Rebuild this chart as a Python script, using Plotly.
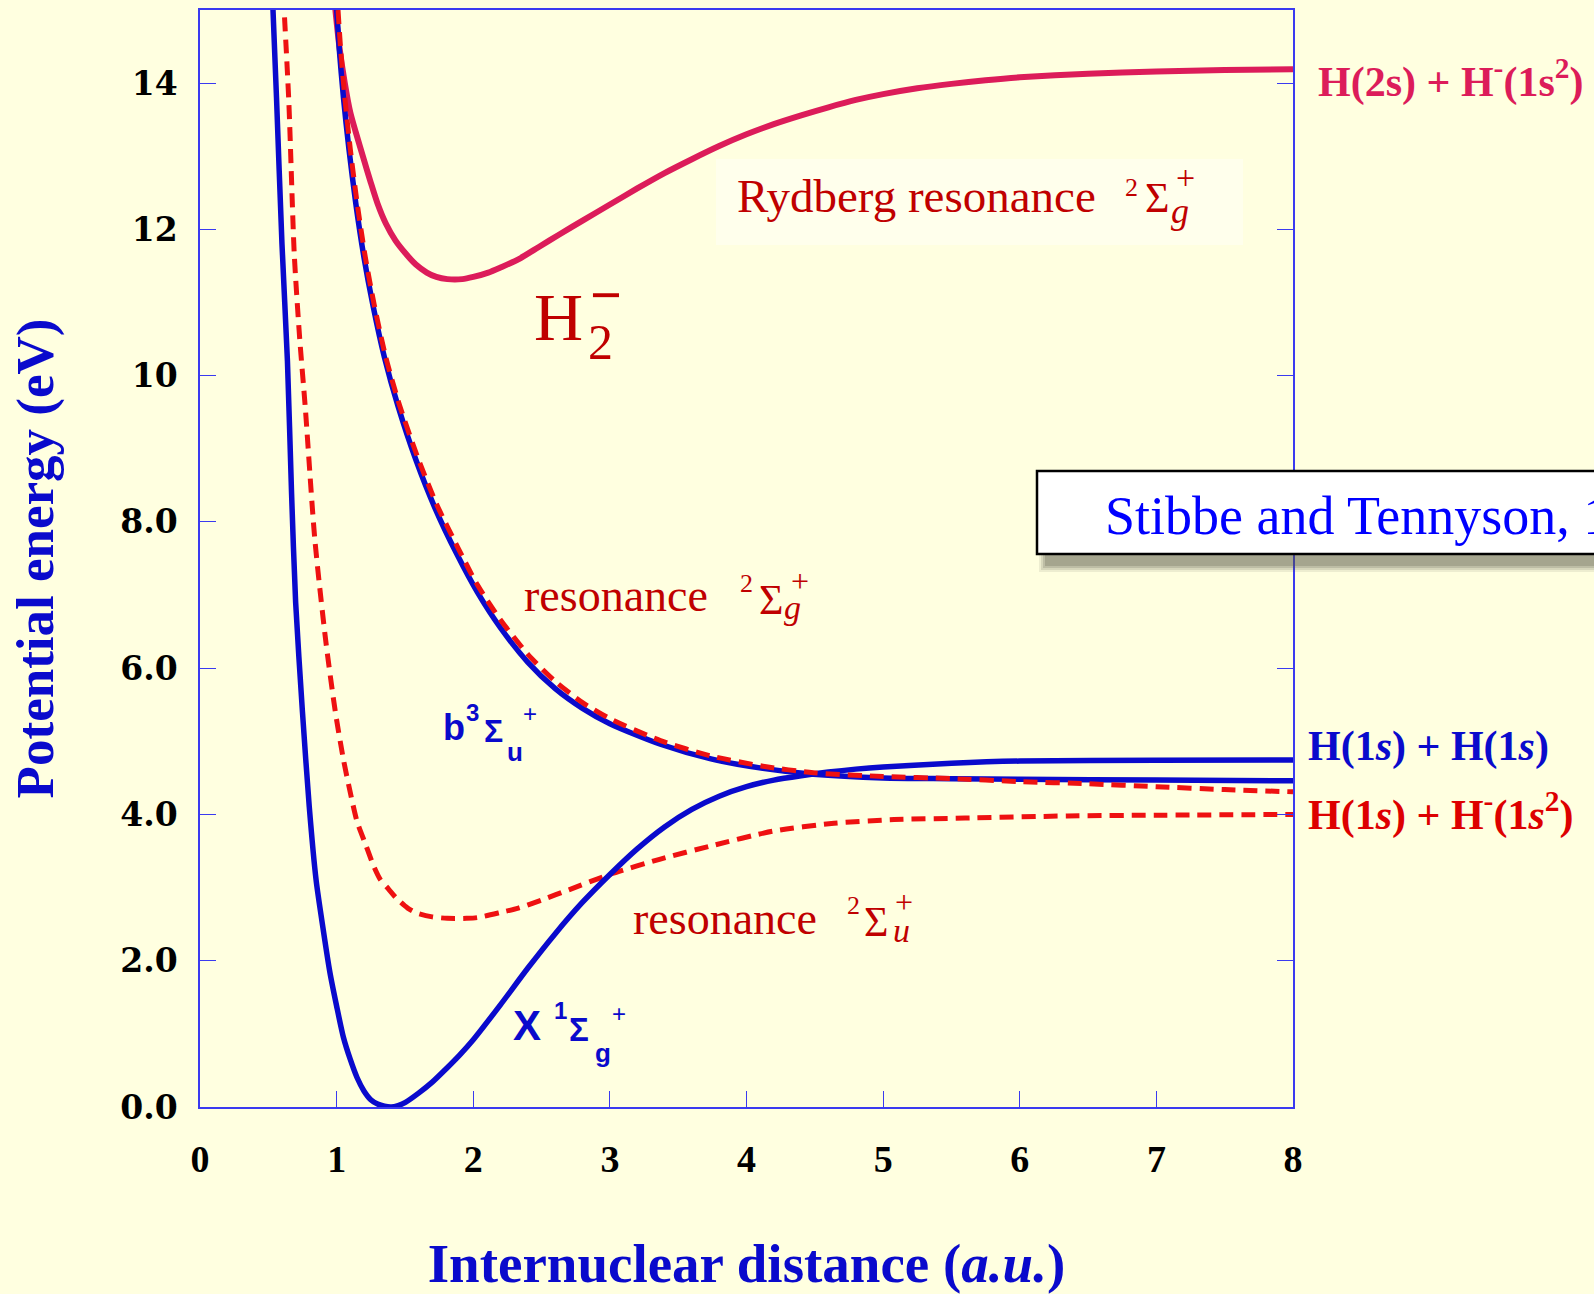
import plotly.graph_objects as go

# ---------------------------------------------------------------------------
# Potential energy curves of H2 and H2- (energy in eV vs R in a.u.)
# ---------------------------------------------------------------------------
r_X = [0.53, 0.56, 0.60, 0.64, 0.67, 0.70, 0.75, 0.80, 0.85, 0.90, 0.95, 1.00,
       1.05, 1.10, 1.15, 1.20, 1.25, 1.30, 1.35, 1.40, 1.45, 1.50, 1.60, 1.70,
       1.80, 1.90, 2.00, 2.20, 2.40, 2.60, 2.80, 3.00, 3.20, 3.40, 3.60, 3.80,
       4.00, 4.20, 4.40, 4.60, 4.80, 5.00, 5.50, 6.00, 7.00, 8.00]
e_X = [15.2, 13.8, 11.8, 10.2, 8.4, 6.9, 5.4, 4.1, 3.1, 2.45, 1.85, 1.38,
       0.95, 0.65, 0.40, 0.22, 0.10, 0.04, 0.01, 0.0, 0.02, 0.06, 0.19, 0.34,
       0.52, 0.71, 0.92, 1.40, 1.90, 2.37, 2.80, 3.18, 3.53, 3.83, 4.07, 4.25,
       4.38, 4.47, 4.53, 4.58, 4.62, 4.65, 4.70, 4.73, 4.74, 4.745]

r_b = [0.99, 1.02, 1.05, 1.09, 1.14, 1.20, 1.265, 1.35, 1.45, 1.58, 1.72, 1.88,
       2.03, 2.20, 2.40, 2.60, 2.80, 3.00, 3.37, 3.74, 4.12, 4.49, 5.00, 5.50,
       6.00, 7.00, 8.00]
e_b = [15.3, 14.45, 13.8, 13.1, 12.36, 11.62, 10.97, 10.25, 9.58, 8.85, 8.19, 7.56,
       7.04, 6.55, 6.08, 5.72, 5.45, 5.24, 4.96, 4.76, 4.63, 4.55, 4.50, 4.49,
       4.48, 4.47, 4.46]

r_g = [1.00, 1.03, 1.06, 1.10, 1.15, 1.21, 1.275, 1.36, 1.46, 1.59, 1.73, 1.89,
       2.03, 2.20, 2.40, 2.60, 2.80, 3.00, 3.37, 3.74, 4.12, 4.49, 5.00, 5.50,
       6.00, 6.50, 7.00, 7.50, 8.00]
e_g = [15.3, 14.45, 13.8, 13.1, 12.36, 11.62, 10.97, 10.25, 9.6, 8.9, 8.25, 7.64,
       7.14, 6.66, 6.19, 5.82, 5.53, 5.31, 5.01, 4.80, 4.66, 4.57, 4.52, 4.49,
       4.45, 4.42, 4.38, 4.34, 4.31]

r_u = [0.61, 0.65, 0.69, 0.73, 0.77, 0.84, 0.92, 0.99, 1.05, 1.10, 1.15, 1.21,
       1.27, 1.32, 1.38, 1.44, 1.52, 1.59, 1.70, 1.81, 1.95, 2.03, 2.20, 2.33,
       2.50, 2.70, 3.00, 3.37, 3.74, 4.19, 4.64, 5.08, 5.60, 6.35, 7.00, 8.00]
e_u = [15.2, 13.75, 11.66, 10.5, 9.58, 7.77, 6.38, 5.41, 4.75, 4.3, 3.9, 3.6,
       3.3, 3.11, 2.98, 2.85, 2.72, 2.65, 2.60, 2.58, 2.58, 2.59, 2.66, 2.72,
       2.83, 2.97, 3.18, 3.39, 3.57, 3.77, 3.88, 3.93, 3.95, 3.98, 3.99, 4.00]

r_ryd = [0.98, 1.02, 1.06, 1.10, 1.14, 1.20, 1.25, 1.30, 1.36, 1.43, 1.51, 1.58,
         1.66, 1.73, 1.81, 1.92, 2.00, 2.11, 2.20, 2.33, 2.48, 2.63, 2.80, 3.00,
         3.20, 3.40, 3.60, 3.80, 4.00, 4.20, 4.40, 4.60, 4.80, 5.00, 5.25, 5.50,
         5.75, 6.00, 6.50, 7.00, 7.50, 8.00]
e_ryd = [15.2, 14.5, 14.0, 13.6, 13.33, 12.95, 12.64, 12.35, 12.08, 11.85, 11.66, 11.52,
         11.41, 11.35, 11.32, 11.32, 11.35, 11.41, 11.48, 11.59, 11.76, 11.93, 12.12, 12.34,
         12.56, 12.77, 12.96, 13.14, 13.30, 13.44, 13.56, 13.67, 13.77, 13.85, 13.93, 13.99,
         14.04, 14.08, 14.13, 14.16, 14.18, 14.19]

x_ticks = [0, 1, 2, 3, 4, 5, 6, 7, 8]
x_ticktext = ["0", "1", "2", "3", "4", "5", "6", "7", "8"]
y_ticks = [0, 2, 4, 6, 8, 10, 12, 14]
y_ticktext = ["0.0", "2.0", "4.0", "6.0", "8.0", "10", "12", "14"]

# ---------------------------------------------------------------------------
# Styling
# ---------------------------------------------------------------------------
BG = "#FFFFE0"
BLUE = "#0A0ACC"
AXIS_BLUE = "#3A3AF0"
CRIMSON = "#DC1C5A"
RED = "#EE1111"
LABEL_RED = "#DD0000"
DARK_RED = "#C00000"
SERIF = "Liberation Serif"
SANS = "Liberation Sans"

W, H = 1594, 1294
PLOT_L, PLOT_R, PLOT_T, PLOT_B = 200, 1293, 10, 1107


def px_x(p):
    return (p - PLOT_L) / (PLOT_R - PLOT_L)


def px_y(p):
    return (PLOT_B - p) / (PLOT_B - PLOT_T)


fig = go.Figure()

line_smooth = dict(shape="spline", smoothing=0.7)
fig.add_trace(go.Scatter(x=r_ryd, y=e_ryd, mode="lines", name="Rydberg 2Σg+",
                         line=dict(color=CRIMSON, width=6, **line_smooth)))
fig.add_trace(go.Scatter(x=r_u, y=e_u, mode="lines", name="2Σu+",
                         line=dict(color=RED, width=5, dash="14px,8px", **line_smooth)))
fig.add_trace(go.Scatter(x=r_X, y=e_X, mode="lines", name="X 1Σg+",
                         line=dict(color=BLUE, width=5.5, **line_smooth)))
fig.add_trace(go.Scatter(x=r_b, y=e_b, mode="lines", name="b 3Σu+",
                         line=dict(color=BLUE, width=5.5, **line_smooth)))
fig.add_trace(go.Scatter(x=r_g, y=e_g, mode="lines", name="2Σg+",
                         line=dict(color=RED, width=5, dash="14px,8px", **line_smooth)))


def txt(x, y, text, size, color, family=SERIF, weight="normal", style="normal",
        xanchor="center", xref="x", yref="y"):
    return dict(x=x, y=y, xref=xref, yref=yref, text=text, showarrow=False,
                xanchor=xanchor, yanchor="middle", borderpad=0,
                font=dict(family=family, size=size, color=color,
                          weight=weight, style=style))


annotations = [
    # Rydberg resonance 2Σg+
    txt(3.92, 12.46, "Rydberg resonance", 47, DARK_RED, xanchor="left"),
    txt(6.82, 12.57, "2", 26, DARK_RED),
    txt(7.005, 12.425, "Σ", 42, DARK_RED),
    txt(7.213, 12.71, "+", 34, DARK_RED),
    txt(7.173, 12.245, "g", 36, DARK_RED, style="italic"),
    # resonance 2Σg+
    txt(2.364, 7.00, "resonance", 46, DARK_RED, xanchor="left"),
    txt(4.0, 7.152, "2", 26, DARK_RED),
    txt(4.176, 6.933, "Σ", 42, DARK_RED),
    txt(4.392, 7.19, "+", 32, DARK_RED),
    txt(4.337, 6.83, "g", 34, DARK_RED, style="italic"),
    # resonance 2Σu+
    txt(3.162, 2.584, "resonance", 46, DARK_RED, xanchor="left"),
    txt(4.783, 2.762, "2", 26, DARK_RED),
    txt(4.951, 2.523, "Σ", 42, DARK_RED),
    txt(5.153, 2.80, "+", 32, DARK_RED),
    txt(5.134, 2.416, "u", 34, DARK_RED, style="italic"),
    # b 3Σu+
    txt(1.771, 5.19, "b", 36, BLUE, family=SANS, weight="bold", xanchor="left"),
    txt(1.995, 5.40, "3", 24, BLUE, family=SANS, weight="bold"),
    txt(2.145, 5.135, "Σ", 32, BLUE, family=SANS, weight="bold"),
    txt(2.415, 5.374, "+", 24, BLUE, family=SANS),
    txt(2.309, 4.854, "u", 26, BLUE, family=SANS, weight="bold"),
    # X 1Σg+
    txt(2.397, 1.108, "X", 42, BLUE, family=SANS, weight="bold"),
    txt(2.642, 1.32, "1", 24, BLUE, family=SANS, weight="bold"),
    txt(2.774, 1.053, "Σ", 33, BLUE, family=SANS, weight="bold"),
    txt(3.07, 1.285, "+", 24, BLUE, family=SANS),
    txt(2.946, 0.738, "g", 26, BLUE, family=SANS, weight="bold"),
    # H2-
    txt(2.624, 10.796, "H", 68, DARK_RED),
    txt(2.928, 10.454, "2", 50, DARK_RED),
    txt(2.972, 11.10, "−", 56, DARK_RED, weight="bold"),
    # dissociation limits
    txt(px_x(1317), 14.057, "H(2s) + H<sup>-</sup>(1s<sup>2</sup>)", 42, CRIMSON,
        weight="bold", xanchor="left", xref="paper"),
    txt(px_x(1307), 4.936, "H(1<i>s</i>) + H(1<i>s</i>)", 42, BLUE,
        weight="bold", xanchor="left", xref="paper"),
    txt(px_x(1307), 4.034, "H(1<i>s</i>) + H<sup>-</sup>(1<i>s</i><sup>2</sup>)", 42, LABEL_RED,
        weight="bold", xanchor="left", xref="paper"),
    # reference box text
    txt(px_x(1104), px_y(516), "Stibbe and Tennyson, 1998", 54, "#0000FF",
        xanchor="left", xref="paper", yref="paper"),
]

shapes = [
    # faint panel behind the Rydberg label
    dict(type="rect", xref="x", yref="y", x0=3.777, x1=7.634, y0=11.787, y1=12.963,
         fillcolor="#FFFFEC", line=dict(width=0), layer="below"),
]

# soft drop shadow under the reference box
box_l, box_t, box_b = 1037, 471, 554
for k, op in [(6, 0.10), (4, 0.14), (2, 0.18), (0, 0.22)]:
    shapes.append(dict(type="rect", xref="paper", yref="paper",
                       x0=px_x(box_l + 8 - k), x1=px_x(1700),
                       y0=px_y(box_b + 12 + k), y1=px_y(box_t + 12 - k),
                       fillcolor="#505040", opacity=op, line=dict(width=0),
                       layer="above"))
shapes.append(dict(type="rect", xref="paper", yref="paper",
                   x0=px_x(box_l), x1=px_x(1700), y0=px_y(box_b), y1=px_y(box_t),
                   fillcolor="#FFFFFF", line=dict(color="#000000", width=2.5),
                   layer="above"))

fig.update_layout(
    width=W, height=H,
    margin=dict(l=PLOT_L, r=W - PLOT_R, t=PLOT_T, b=H - PLOT_B, autoexpand=False),
    paper_bgcolor=BG, plot_bgcolor=BG,
    showlegend=False,
    annotations=annotations,
    shapes=shapes,
    xaxis=dict(
        range=[0, 8], tickmode="array", tickvals=x_ticks, ticktext=x_ticktext,
        ticks="inside", ticklen=16, tickwidth=1.2, tickcolor=AXIS_BLUE,
        showline=True, linecolor=AXIS_BLUE, linewidth=1.5, mirror=True,
        showgrid=False, zeroline=False, ticklabelstandoff=18,
        tickfont=dict(family=SERIF, size=38, color="#000000", weight="bold"),
        title=dict(text="Internuclear distance (<i>a.u.</i>)", standoff=66,
                   font=dict(family=SERIF, size=55, color=BLUE, weight="bold")),
    ),
    yaxis=dict(
        range=[0, 15], tickmode="array", tickvals=y_ticks, ticktext=y_ticktext,
        ticks="inside", ticklen=16, tickwidth=1.2, tickcolor=AXIS_BLUE,
        showline=True, linecolor=AXIS_BLUE, linewidth=1.5, mirror="ticks",
        showgrid=False, zeroline=False, ticklabelstandoff=14,
        tickfont=dict(family="DejaVu Serif", size=33, color="#000000", weight="bold"),
        title=dict(text="Potential energy (eV)", standoff=50,
                   font=dict(family=SERIF, size=53, color=BLUE, weight="bold")),
    ),
)

fig.write_html("out.html")
